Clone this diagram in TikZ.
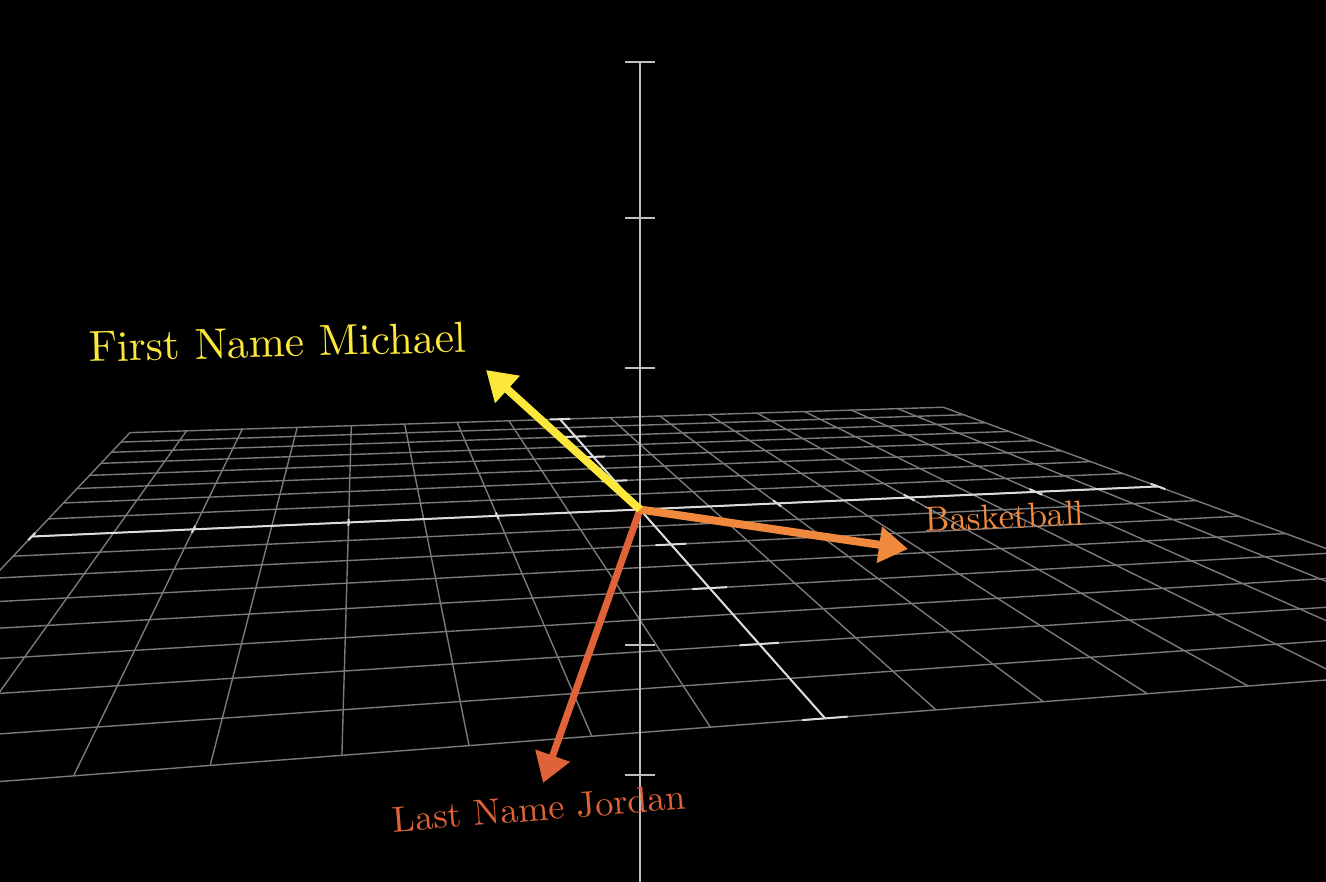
\documentclass[tikz,border=0pt]{standalone}
\usepackage{fontspec}
\usetikzlibrary{arrows.meta}
\definecolor{vyellow}{RGB}{252,232,58}
\definecolor{vorange}{RGB}{240,136,62}
\definecolor{vred}{RGB}{224,98,56}
\definecolor{gridc}{RGB}{122,122,122}
\definecolor{axisc}{RGB}{220,220,220}
\definecolor{zaxisc}{RGB}{190,190,190}
% homography of the ground plane (X,Y) -> image pixels
\pgfmathdeclarefunction{hu}{2}{\pgfmathparse{(152.71*(#1)+35.47*(#2)+640)/(0.020044*(#1)+0.09906*(#2)+1)}}
\pgfmathdeclarefunction{hv}{2}{\pgfmathparse{(3.99*(#1)+18.95*(#2)+509.5)/(0.020044*(#1)+0.09906*(#2)+1)}}
\tikzset{
  gridline/.style={draw=gridc, line width=1.4pt},
  axisline/.style={draw=axisc, line width=2pt},
  tickmark/.style={draw=axisc, line width=2pt},
  zaxis/.style={draw=zaxisc, line width=1.6pt},
  vec/.style={line width=8pt, -{Triangle[length=29pt,width=35pt]}},
  lab/.style={inner sep=0pt, anchor=base, font=\fontsize{10}{12}\selectfont\addfontfeature{FakeBold=2}},
}
\begin{document}
\begin{tikzpicture}[x=1pt,y=-1pt]
\fill[black] (0,0) rectangle (1326,882);
\useasboundingbox (0,0) rectangle (1326,882);
\clip (0,0) rectangle (1326,882);
% grid
\foreach \i in {0,...,16} {
  \pgfmathsetmacro\t{-4+0.5*\i}
  \draw[gridline] ({hu(\t,-4)},{hv(\t,-4)}) -- ({hu(\t,4)},{hv(\t,4)});
  \draw[gridline] ({hu(-4,\t)},{hv(-4,\t)}) -- ({hu(4,\t)},{hv(4,\t)});
}
% ground axes
\draw[axisline] ({hu(-4,0)},{hv(-4,0)}) -- ({hu(4,0)},{hv(4,0)});
\draw[axisline] ({hu(0,-4)},{hv(0,-4)}) -- ({hu(0,4)},{hv(0,4)});
\foreach \k in {-4,-3,-2,-1,1,2,3,4} {
  \draw[tickmark] ({hu(\k,-0.1)},{hv(\k,-0.1)}) -- ({hu(\k,0.1)},{hv(\k,0.1)});
  \draw[tickmark] ({hu(-0.1,\k)},{hv(-0.1,\k)}) -- ({hu(0.1,\k)},{hv(0.1,\k)});
}
% vertical axis
\coordinate (ztop) at (640,62);
\coordinate (zbot) at (640,900);
\draw[zaxis] (ztop) -- (zbot);
\foreach \zy in {62,218,368,645,775} {
  \draw[zaxis] (625,\zy) -- (655,\zy);
}
% vectors
\coordinate (O) at (640,509.5);
\coordinate (tipM) at (486,370);
\coordinate (tipB) at (908,549);
\coordinate (tipJ) at (543,783);
\draw[vec, color=vred, line width=7pt] (O) -- (tipJ);
\draw[vec, color=vorange] (O) -- (tipB);
\draw[vec, color=vyellow] (O) -- (tipM);
% labels
\node[lab, text=vyellow, scale=4.35, rotate=1.5] (labM) at (278,357) {First Name Michael};
\node[lab, text=vorange, scale=3.5, rotate=2.5] (labB) at (1005,528.5) {Basketball};
\node[lab, text=vred, scale=3.62, rotate=4.5] (labJ) at (540,820.5) {Last Name Jordan};
\end{tikzpicture}
\end{document}
